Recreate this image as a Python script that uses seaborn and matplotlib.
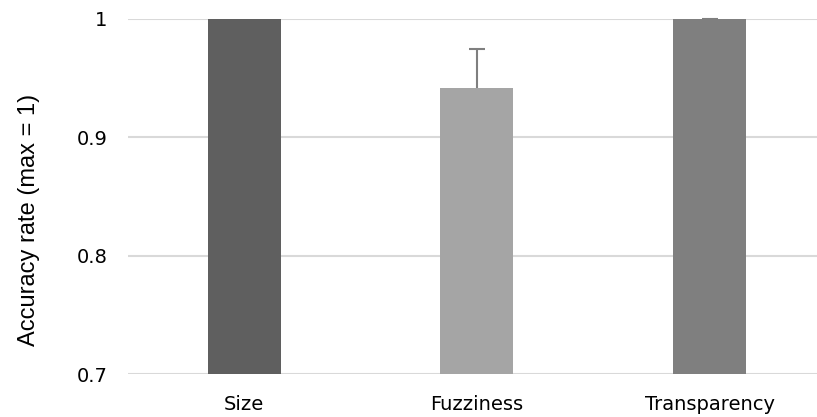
import matplotlib
matplotlib.use("Agg")
import matplotlib.pyplot as plt
import seaborn as sns
import pandas as pd
import numpy as np

# Mean accuracy per visual variable, with error bar half-lengths (NaN = none drawn)
categories = ["Size", "Fuzziness", "Transparency"]
accuracy = [1.0, 0.942, 1.0]
errors = [np.nan, 0.033, 0.0]
bar_colors = ["#5f5f5f", "#a5a5a5", "#7f7f7f"]
y_ticks = [0.7, 0.8, 0.9, 1.0]
y_tick_labels = ["0.7", "0.8", "0.9", "1"]

df = pd.DataFrame({"category": categories, "accuracy": accuracy})

sns.set_style("white")
fig = plt.figure(figsize=(8.17, 4.17), dpi=100)
ax = fig.add_axes([128 / 817, 43 / 417, 689 / 817, 355 / 417])

sns.barplot(data=df, x="category", y="accuracy", hue="category",
            palette=bar_colors, order=categories, hue_order=categories,
            errorbar=None, width=0.314, legend=False, ax=ax, zorder=3,
            saturation=1, linewidth=0)

# Upper-only error bars: hide the cap sitting on the bar top
_, caps, _ = ax.errorbar(range(len(categories)), accuracy,
                         yerr=[[0] * len(errors), errors],
                         fmt="none", ecolor="#7f7f7f", elinewidth=1.5, capsize=6,
                         capthick=1.5, zorder=4, clip_on=False)
caps[0].set_visible(False)

ax.set_ylim(0.7, 1.0)
ax.set_xlim(-0.5, 2.462)
ax.set_yticks(y_ticks)
ax.set_yticklabels(y_tick_labels, fontsize=14, family="DejaVu Sans", color="black")
ax.yaxis.grid(True, color="#d9d9d9", linewidth=1.5, zorder=0)
ax.set_axisbelow(True)
for s in ax.spines.values():
    s.set_visible(False)
ax.tick_params(axis="both", length=0)
ax.tick_params(axis="y", pad=15)
ax.tick_params(axis="x", pad=15)
for lbl in ax.get_xticklabels():
    lbl.set_fontsize(14)
    lbl.set_family("DejaVu Sans")
    lbl.set_color("black")
ax.set_xlabel("")
ax.set_ylabel("Accuracy rate (max = 1)", fontsize=17, family="Liberation Sans",
              color="black")
ax.yaxis.set_label_coords(-0.127, 0.434)

fig.savefig("out.png", dpi=100)
